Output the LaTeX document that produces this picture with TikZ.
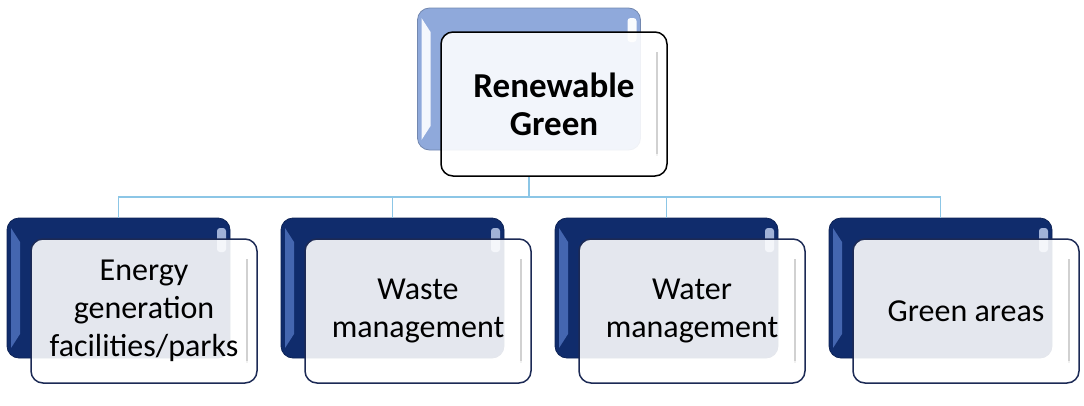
\documentclass[tikz,border=0pt]{standalone}
\usepackage{fontspec}
\setmainfont{Carlito}
\definecolor{navy}{HTML}{102C6C}
\definecolor{navyedge}{HTML}{4466B0}
\definecolor{skyback}{HTML}{8FA9DB}
\definecolor{skyedge}{HTML}{F4F7FD}
\definecolor{linkblue}{HTML}{8CC6E6}
\definecolor{frameline}{HTML}{1C2A55}

\tikzset{
  backbox/.style 2 args={rounded corners=12pt, minimum width=223pt, minimum height=140pt,
    fill=#1, draw=#1!80!black, line width=0.8pt,
    path picture={
      \fill[#2, sharp corners] ([xshift=4pt,yshift=-10pt]path picture bounding box.north west)
        -- ([xshift=13pt,yshift=-24pt]path picture bounding box.north west)
        -- ([xshift=13pt,yshift=24pt]path picture bounding box.south west)
        -- ([xshift=4pt,yshift=10pt]path picture bounding box.south west) -- cycle;
      \fill[#2!50!white, rounded corners=3pt] ([xshift=-13pt,yshift=-10pt]path picture bounding box.north east)
        rectangle ([xshift=-4pt,yshift=-34pt]path picture bounding box.north east);}},
  frontbox/.style={rounded corners=12pt, minimum width=226pt, minimum height=144pt,
    fill=white, fill opacity=0.89, text opacity=1, draw=frameline, line width=1.5pt,
    align=center, font=\fontsize{32}{38}\selectfont,
    path picture={
      \draw[black!18, line width=2.5pt, sharp corners] ([xshift=-10pt,yshift=-20pt]path picture bounding box.north east)
        -- ([xshift=-10pt,yshift=20pt]path picture bounding box.south east);
      \fill[white, opacity=0.7, sharp corners] ([yshift=22pt]path picture bounding box.south west)
        rectangle (path picture bounding box.south east);}},
  link/.style={draw=linkblue, line width=1.2pt},
}

\begin{document}
\begin{tikzpicture}[x=1pt, y=-1pt]
    \useasboundingbox (0,0) rectangle (1084,405);

    % 後ろの箱
    \node[backbox={skyback}{skyedge}, minimum height=142pt] (R0) at (529, 79) {};
    \node[backbox={navy}{navyedge}] (A0) at (118.5, 288) {};
    \node[backbox={navy}{navyedge}] (B0) at (392.5, 288) {};
    \node[backbox={navy}{navyedge}] (C0) at (666.5, 288) {};
    \node[backbox={navy}{navyedge}] (D0) at (940.5, 288) {};

    % 線を引く
    \coordinate (bus) at (0, 197);
    \coordinate (Rfoot) at (529, 176);
    \foreach \n in {A0, B0, C0, D0}
        \draw[link] (Rfoot) |- (bus -| \n) -- (\n.north);

    % 前の箱と文字
    \node[frontbox, draw=black, font=\bfseries\fontsize{35}{38}\selectfont] (R) at (554, 104) {Renewable\\Green};
    \node[frontbox] (A) at (144, 311) {Energy\\generation\\facilities/parks};
    \node[frontbox] (B) at (418, 311) {Waste\\management};
    \node[frontbox] (C) at (692, 311) {Water\\management};
    \node[frontbox] (D) at (966, 311) {Green areas};

\end{tikzpicture}
\end{document}
